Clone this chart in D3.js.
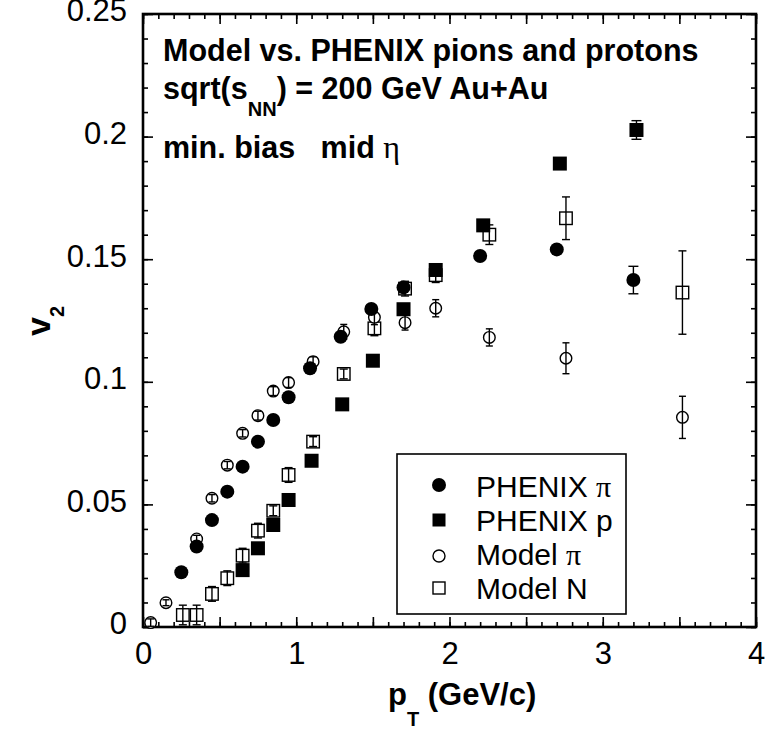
<!DOCTYPE html>
<html><head><meta charset="utf-8">
<script src="https://cdn.jsdelivr.net/npm/d3@7"></script>
<style>
html,body{margin:0;padding:0;background:#fff;}
svg{display:block;font-family:"Liberation Sans",Arial,sans-serif;}
</style></head>
<body>
<svg id="c" width="765" height="731"></svg>
<script>
// ---- data ----
const phenixPiPt  = [0.25,0.35,0.45,0.55,0.65,0.75,0.85,0.95,1.09,1.29,1.49,1.70,2.20,2.70,3.20];
const phenixPiV2  = [0.0223,0.0328,0.0436,0.0552,0.0654,0.0756,0.0844,0.0937,0.1055,0.1184,0.1297,0.1385,0.1513,0.1540,0.1415];
const phenixPiErr = [0,0,0,0,0,0,0,0,0,0,0,0,0,0.001,0.0056];

const phenixPPt  = [0.65,0.75,0.85,0.95,1.10,1.30,1.50,1.70,1.91,2.22,2.72,3.22];
const phenixPV2  = [0.0232,0.0321,0.0416,0.0518,0.0678,0.0908,0.1086,0.1296,0.1456,0.1638,0.1890,0.2027];
const phenixPErr = [0,0,0,0,0,0,0,0,0,0,0.001,0.0038];

const modelPiPt  = [0.05,0.15,0.35,0.45,0.55,0.65,0.75,0.85,0.95,1.11,1.31,1.51,1.71,1.91,2.26,2.76,3.52];
const modelPiV2  = [0.0018,0.0099,0.0359,0.0525,0.0660,0.0790,0.0862,0.0962,0.0997,0.1082,0.1204,0.1263,0.1241,0.1300,0.1181,0.1096,0.0855];
const modelPiErr = [0.0015,0.0012,0.0015,0.0015,0.0015,0.0015,0.0018,0.0018,0.002,0.002,0.003,0.003,0.003,0.0035,0.0035,0.0063,0.0086];

const modelNPt  = [0.26,0.35,0.45,0.55,0.65,0.75,0.85,0.95,1.11,1.31,1.51,1.71,1.91,2.26,2.76,3.52];
const modelNV2  = [0.0049,0.0049,0.0135,0.0199,0.0291,0.0393,0.0474,0.0620,0.0756,0.1032,0.1218,0.1380,0.1435,0.1600,0.1667,0.1364];
const modelNErr = [0.004,0.004,0.003,0.003,0.003,0.003,0.002,0.003,0.002,0.002,0.003,0.003,0.003,0.004,0.0087,0.017];

const xTickValues = [0,1,2,3,4];
const xTickLabels = ["0","1","2","3","4"];
const yTickValues = [0,0.05,0.1,0.15,0.2,0.25];
const yTickLabels = ["0","0.05","0.1","0.15","0.2","0.25"];
const legendLabels = ["PHENIX ", "PHENIX p", "Model ", "Model N"];

// ---- chart ----
const svg = d3.select("#c");
const x = d3.scaleLinear().domain([0,4]).range([143,756]);
const y = d3.scaleLinear().domain([0,0.25]).range([627,14]);
const X0=x.range()[0], X1=x.range()[1], Y0=y.range()[0], Y1=y.range()[1];

const xMinor = d3.range(0,4.0001,0.1).map(v=>+v.toFixed(2));
const xMajor = d3.range(0,4.0001,0.5).map(v=>+v.toFixed(2));
const yMinor = d3.range(0,0.25001,0.01).map(v=>+v.toFixed(3));
const yMajor = d3.range(0,0.25001,0.05).map(v=>+v.toFixed(3));

function styleAxis(g){ g.select(".domain").remove(); g.selectAll("line").attr("stroke","#000").attr("stroke-width",1.6); }

// bottom
svg.append("g").attr("transform",`translate(0,${Y0})`)
  .call(d3.axisBottom(x).tickValues(xMinor).tickSize(-5).tickFormat(""))
  .call(styleAxis);
const bx = svg.append("g").attr("transform",`translate(0,${Y0})`)
  .call(d3.axisBottom(x).tickValues(xMajor).tickSize(-10).tickPadding(15)
    .tickFormat(d=>{const i=xTickValues.indexOf(d); return i>=0?xTickLabels[i]:"";}))
  .call(styleAxis);
bx.selectAll("text").attr("font-size",31).attr("fill","#000").attr("font-family","Liberation Sans, Arial, sans-serif");
// top
svg.append("g").attr("transform",`translate(0,${Y1})`)
  .call(d3.axisTop(x).tickValues(xMinor).tickSize(-5).tickFormat("")).call(styleAxis);
svg.append("g").attr("transform",`translate(0,${Y1})`)
  .call(d3.axisTop(x).tickValues(xMajor).tickSize(-10).tickFormat("")).call(styleAxis);
// left
svg.append("g").attr("transform",`translate(${X0},0)`)
  .call(d3.axisLeft(y).tickValues(yMinor).tickSize(-5).tickFormat("")).call(styleAxis);
const ly = svg.append("g").attr("transform",`translate(${X0},0)`)
  .call(d3.axisLeft(y).tickValues(yMajor).tickSize(-10).tickPadding(16)
    .tickFormat(d=>{const i=yTickValues.findIndex(v=>Math.abs(v-d)<1e-9); return i>=0?yTickLabels[i]:"";}))
  .call(styleAxis);
ly.selectAll("text").attr("font-size",31).attr("dy","0.22em").attr("fill","#000").attr("font-family","Liberation Sans, Arial, sans-serif");
// right
svg.append("g").attr("transform",`translate(${X1},0)`)
  .call(d3.axisRight(y).tickValues(yMinor).tickSize(-5).tickFormat("")).call(styleAxis);
svg.append("g").attr("transform",`translate(${X1},0)`)
  .call(d3.axisRight(y).tickValues(yMajor).tickSize(-10).tickFormat("")).call(styleAxis);

// frame
svg.append("rect").attr("x",X0).attr("y",Y1).attr("width",X1-X0).attr("height",Y0-Y1)
  .attr("fill","none").attr("stroke","#000").attr("stroke-width",2.6);

// error bars helper
function errBars(pt,v,err,cap){
  const g = svg.append("g").attr("stroke","#000").attr("stroke-width",1.4);
  pt.forEach((p,i)=>{
    const e=err[i]; if(!e) return;
    const cx=x(p), yt=y(v[i]+e), yb=y(v[i]-e);
    g.append("line").attr("x1",cx).attr("x2",cx).attr("y1",yt).attr("y2",yb);
    g.append("line").attr("x1",cx-cap).attr("x2",cx+cap).attr("y1",yt).attr("y2",yt);
    g.append("line").attr("x1",cx-cap).attr("x2",cx+cap).attr("y1",yb).attr("y2",yb);
  });
}

// model N (open squares)
const sN=12.5;
svg.append("g").selectAll("rect").data(modelNPt).join("rect")
  .attr("x",(d)=>x(d)-sN/2).attr("y",(d,i)=>y(modelNV2[i])-sN/2)
  .attr("width",sN).attr("height",sN).attr("fill","#fff").attr("stroke","#000").attr("stroke-width",1.4);
errBars(modelNPt,modelNV2,modelNErr,4);
// model pi (open circles)
svg.append("g").selectAll("circle").data(modelPiPt).join("circle")
  .attr("cx",d=>x(d)).attr("cy",(d,i)=>y(modelPiV2[i])).attr("r",5.8)
  .attr("fill","#fff").attr("stroke","#000").attr("stroke-width",1.4);
errBars(modelPiPt,modelPiV2,modelPiErr,3.5);

// PHENIX p (filled squares)
const sP=14;
svg.append("g").selectAll("rect").data(phenixPPt).join("rect")
  .attr("x",d=>x(d)-sP/2).attr("y",(d,i)=>y(phenixPV2[i])-sP/2)
  .attr("width",sP).attr("height",sP).attr("fill","#000");
errBars(phenixPPt,phenixPV2,phenixPErr,5);
// PHENIX pi (filled circles)
svg.append("g").selectAll("circle").data(phenixPiPt).join("circle")
  .attr("cx",d=>x(d)).attr("cy",(d,i)=>y(phenixPiV2[i])).attr("r",7).attr("fill","#000");
errBars(phenixPiPt,phenixPiV2,phenixPiErr,5);

// annotations
const ann = svg.append("g").attr("font-weight","bold").attr("font-size",30.5).attr("fill","#000");
ann.append("text").attr("x",163).attr("y",61).text("Model vs. PHENIX pions and protons");
const t2 = ann.append("text").attr("x",163).attr("y",99);
t2.append("tspan").text("sqrt(s");
t2.append("tspan").attr("font-size",20).attr("dy",17).text("NN");
t2.append("tspan").attr("dy",-17).text(") = 200 GeV Au+Au");
const t3 = ann.append("text").attr("x",163).attr("y",158).attr("xml:space","preserve");
t3.append("tspan").text("min. bias   mid ");
t3.append("tspan").attr("font-family","Liberation Serif, serif").attr("font-weight","normal").attr("font-size",32).text("η");

// legend
svg.append("rect").attr("x",397).attr("y",454).attr("width",229).attr("height",160)
  .attr("fill","#fff").attr("stroke","#000").attr("stroke-width",1.6);
const legY=[497,531,565,599];
const lg = svg.append("g");
lg.append("circle").attr("cx",439).attr("cy",legY[0]-12).attr("r",7).attr("fill","#000");
lg.append("rect").attr("x",439-6.5).attr("y",legY[1]-11-6.5).attr("width",13).attr("height",13).attr("fill","#000");
lg.append("circle").attr("cx",439).attr("cy",legY[2]-9).attr("r",6).attr("fill","#fff").attr("stroke","#000").attr("stroke-width",1.4);
lg.append("rect").attr("x",439-6).attr("y",legY[3]-11-6).attr("width",12).attr("height",12).attr("fill","#fff").attr("stroke","#000").attr("stroke-width",1.4);
const greek=["π","","π",""];
legendLabels.forEach((l,i)=>{
  const t=lg.append("text").attr("x",476).attr("y",legY[i]).attr("font-size",30).attr("fill","#000");
  t.append("tspan").text(l);
  if(greek[i]) t.append("tspan").attr("font-family","Liberation Serif, serif").text(greek[i]);
});

// axis titles
const xt = svg.append("text").attr("x",388).attr("y",705)
  .attr("font-weight","bold").attr("font-size",31).attr("fill","#000");
xt.append("tspan").text("p");
xt.append("tspan").attr("font-size",20).attr("dy",21).text("T");
xt.append("tspan").attr("dy",-21).text(" (GeV/c)");

const yt = svg.append("text").attr("transform","translate(50,336) rotate(-90)")
  .attr("font-weight","bold").attr("font-size",34).attr("fill","#000");
yt.append("tspan").text("v");
yt.append("tspan").attr("font-size",20).attr("dy",14).text("2");
</script>
</body></html>
